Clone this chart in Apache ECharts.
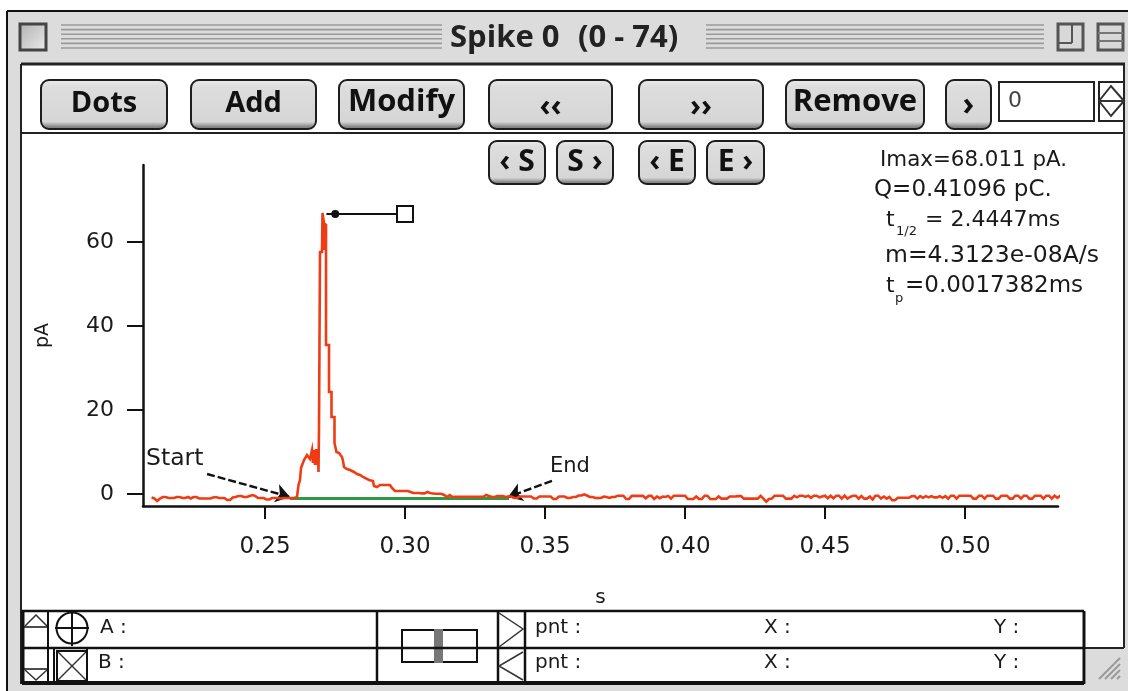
<!DOCTYPE html>
<html><head><meta charset="utf-8">
<style>html,body{margin:0;padding:0;background:#fff}#c{width:1128px;height:691px;filter:blur(0.4px)}</style>
<script src="https://cdn.jsdelivr.net/npm/echarts@6/dist/echarts.min.js"></script>
</head><body><div id="c"></div>
<script>
// ---- data ----
const xTicks = [0.25, 0.30, 0.35, 0.40, 0.45, 0.50];
const yTicks = [0, 20, 40, 60];
const sampleStep = 0.001;
const preStart = 0.2095;
const preCurrent = [-0.83,-1.07,-1.67,-1.07,-0.71,-0.71,-0.95,-0.95,-0.95,-0.71,-0.71,-0.95,-0.95,-0.71,-1.07,-0.71,-0.71,-1.07,-1.07,-1.07,-1.07,-1.07,-0.83,-0.71,-0.95,-0.95,-0.95,-1.43,-1.43,-0.83,-0.71,-0.48,-0.48,-0.71,-0.71,-0.48,-0.24,-0.48,-0.95,-0.95,-0.95,-1.31,-1.31,-0.95,-0.95,-0.95,-1.07,-0.95,-0.95,-0.95,-0.95,-0.95];
const spikeTime = [.26143,.26196,.2625,.26286,.26357,.26393,.26464,.265,.26571,.26607,.26661,.26679,.26714,.2675,.26786,.26821,.26857,.26893,.26911,.26929,.26964,.26964,.27036,.27054,.27089,.27107,.27125,.27143,.27161,.27179,.27179,.27286,.27286,.27375,.27375,.27482,.27482,.27536,.27554,.27643,.2775,.27786,.27821,.27929,.28036,.28179,.28286,.28393,.285,.28571,.28714,.28857,.28893,.29,.29107,.29464,.29536,.29643,.29929];
const spikeCurrent = [-0.71,2.14,3.33,6.19,6.19,8.1,8.1,9.29,9.29,8.33,8.33,10.48,7.38,10.48,6.9,10.71,6.9,10.71,5.24,15.95,15.95,57.62,57.62,66.9,66.9,64.52,58.1,64.52,58.1,64.29,35.48,35.48,24.29,24.29,18.33,18.33,12.14,12.14,10.0,9.76,8.81,7.86,6.43,5.95,5.71,5.24,4.76,4.52,4.05,3.81,3.33,3.1,1.9,1.67,2.14,2.14,1.43,0.71,0.71];
const postStart = 0.300;
const postCurrent = [
 .95,.71,.48,.24,.24,.24,.14,.14,.48,.24,.14,.05,.05,.05,-.24,-.71,
 -.24,-.71,-.67,-.67,-.67,-.67,-.67,-.67,-.67,-.67,-.67,-.67,-.67,-.24,
 -.48,-.71,-.71,-.48,-.48,-.48,-.71,
 -.6,-.6,-.95,-.95,-.6,-.6,-.6,-.6,-.6,-1.07,-1.07,-.6,-.6,-.6,-.6,-.6,-1.19,-1.19,-.6,-.6,-.6,-.95,-.95,-.71,-.71,-.36,-.36,-.12,-.36,-.71,-.71,-.95,-.95,-.95,-.6,-.71,-.95,-.71,-.71,
 -.4,-.4,-.4,-1.19,-1.19,-.45,-.45,-.45,-.45,-.45,-1.0,-.45,-.45,-1.19,-.6,-1.0,-.6,-.7,-.45,-1.1,-.4,-.4,-.4,-.4,-.4,-1.19,-1.19,-1.19,-.6,-1.19,-1.19,-.4,-.4,-1.19,-1.19,-1.19,-.6,-1.1,-1.1,-1.1,-.6,-.6,-.6,-.5,-.5,-1.1,-1.1,-1.1,-1.1,-1.1,-1.1,-.45,-1.1,-1.8,-1.19,-1.1,-.4,-.4,-.4,-.4,-1.1,-1.1,-1.1,-.45,-.8,-.4,-.4,-.7,-.4,-.9,-.4,-.4,-.8,
 -.6,-.4,-1,-.4,-1,-.4,-.4,-1.1,-.4,-1.1,-.7,-.4,-.4,-1.1,-.5,-1.1,-1.1,-.6,-1.3,-.4,-.4,-1.1,-.6,-1.1,-.7,-1.5,-1.5,-.9,-.9,-.9,-.9,-.9,-.5,-.5,-1.1,-.5,-.9,-.5,-.8,-.5,-.8,-.8,-.5,-.9,-.5,-1.1,-.4,-.4,-1.1,-.4,-.4,-.4,-.4,-.4,-1.1,-1.1,-.4,-.4,-1.1,-.4,-.4,-.4,-1.1,-1.1,-.4,-.4,-.4,-1.1,-1.1,-.4,-.4,-1.1,-.4,-.4,-1.1,-1.1,-.4,-.4,-.4,-1.1,-.4,-.4,-1.1,-.4,-.9,-.4,-.4];
const baselineTime = [0.25893, 0.33714];
const baselineCurrent = [-1.07, -1.07];
const peakMarkerTime = [0.30, 0.2723];
const peakMarkerCurrent = [66.67, 66.67];
const startArrow = [[0.2293, 4.76], [0.25893, -0.71]];
const endArrow = [[0.3525, 3.1], [0.33679, -0.71]];
const buttonLabels = ['Dots','Add','Modify','‹‹','››','Remove','›','‹ S','S ›','‹ E','E ›'];
const statLines = ['Imax=68.011 pA.','Q=0.41096 pC.','= 2.4447ms','m=4.3123e-08A/s','=0.0017382ms'];

const trace = [
  ...preCurrent.map((v,i)=>[preStart+i*sampleStep,v]),
  ...spikeCurrent.map((v,i)=>[spikeTime[i],v]),
  ...postCurrent.map((v,i)=>[postStart+i*sampleStep,v])
];

// ---- window furniture ----
const UI = '"DejaVu Sans"';
const BOLD = '"Open Sans"';
const g = [];
const rect=(x,y,w,h,fill,stroke,lw,r,z)=>g.push({type:'rect',z:z||1,silent:true,shape:{x,y,width:w,height:h,r:r||0},style:{fill:fill||'none',stroke:stroke||'none',lineWidth:lw||1}});
const line=(x1,y1,x2,y2,c,lw)=>g.push({type:'line',z:3,silent:true,shape:{x1,y1,x2,y2},style:{stroke:c||'#111',lineWidth:lw||2}});
const text=(x,y,t,size,o={})=>g.push({type:'text',z:5,silent:true,x,y,style:{text:t,fill:o.fill||'#1a1a1a',font:(o.bold?'bold ':'')+size+'px '+(o.family||UI),textAlign:o.align||'left',textVerticalAlign:'middle'},rotation:o.rot||0});
const poly=(pts,c,lw)=>g.push({type:'polyline',z:3,silent:true,shape:{points:pts},style:{stroke:c||'#111',lineWidth:lw||2,fill:'none'}});

// grey frame
rect(8,12,1120,51,'#dcdcdc');
rect(8,63,13,628,'#dcdcdc');
rect(21,684,1107,7,'#dcdcdc');
rect(1086,649,42,42,'#dcdcdc');
rect(1125,63,3,590,'#dcdcdc');
line(7,11,1128,11,'#111',2);
line(7,11,7,691,'#111',2);
line(21,64,1125,64,'#222',3);
line(21,64,21,684,'#222',2);
line(1124,64,1124,648,'#222',2);
line(1084,648,1124,648,'#222',2);
line(21,133,1124,133,'#222',2);

// title bar
function stripes(x1,x2){ for(let k=0;k<6;k++){ const y=25+k*4.6; line(x1,y,x2,y,'#9a9a9a',1.6);} }
stripes(61,442); stripes(706,1044);
text(450,38,'Spike 0',31,{bold:true,family:BOLD,fill:'#222'});
text(578,38,'(0 - 74)',31,{bold:true,family:BOLD,fill:'#222'});
function boxBtn(x,y,w,h){ g.push({type:'rect',z:2,silent:true,shape:{x,y,width:w,height:h},style:{fill:{type:'linear',x:0,y:0,x2:1,y2:1,colorStops:[{offset:0,color:'#b0b0b0'},{offset:.6,color:'#d4d4d4'},{offset:1,color:'#efefef'}]},stroke:'#444',lineWidth:3}}); }
boxBtn(20,24,26,26);
rect(1058,24,25,26,'#d8d8d8','#555',3);
line(1058,43,1072,43,'#555',2); line(1072,24,1072,43,'#555',2);
rect(1098,24,25,26,'#d8d8d8','#555',3);
line(1098,33,1123,33,'#777',2); line(1098,41,1123,41,'#777',2);

// buttons
function button(x,y,w,h,label,size,dy){
  g.push({type:'rect',z:2,silent:true,shape:{x,y,width:w,height:h,r:8},style:{fill:{type:'linear',x:0,y:0,x2:0,y2:1,colorStops:[{offset:0,color:'#ececec'},{offset:.15,color:'#dddddd'},{offset:.84,color:'#d6d6d6'},{offset:.93,color:'#8d8d8d'},{offset:1,color:'#6f6f6f'}]},stroke:'#1e1e1e',lineWidth:2}});
  text(x+w/2,y+h/2+(dy||0),label,size,{bold:true,family:BOLD,align:'center',fill:'#111'});
}
const bt=buttonLabels;
button(41,80,126,49,bt[0],29,-1);
button(191,80,125,49,bt[1],29,-1);
button(339,80,125,49,bt[2],31,-2);
button(489,80,123,49,bt[3],30,3);
button(639,80,124,49,bt[4],30,3);
button(786,80,138,49,bt[5],31,-2);
button(946,80,45,49,bt[6],32,1);
button(489,141,56,43,bt[7],30,0);
button(557,141,56,43,bt[8],30,0);
button(639,141,56,43,bt[9],30,0);
button(707,141,57,43,bt[10],30,0);

// value box & spinner
rect(999,82,95,39,'#fff','#222',2);
text(1008,101,'0',22,{fill:'#444'});
rect(1099,82,25,39,'#fff','#222',2);
poly([[1099,101],[1111,86],[1124,101],[1111,116],[1099,101]],'#333',2);
line(1099,101,1124,101,'#333',2);

// read-outs
text(880,160,statLines[0],21.4);
text(874,190,statLines[1],23);
text(886,220,'t',22);
text(896,232,'1/2',13);
text(925,220,statLines[2],22);
text(885,256,statLines[3],23.5);
text(886,286,'t',22);
text(895,299,'p',13);
text(905,286,statLines[4],23);

// annotations text
text(146,459,'Start',23.5);
text(550,467,'End',21);

// cursor panel
rect(22,611,1062,71,'#fff');
line(22,611,1084,611,'#111',2.5);
line(22,648,1084,648,'#111',2.5);
line(22,683,1084,683,'#111',4);
line(1084,611,1084,684,'#111',3);
line(23,611,23,684,'#111',3);
line(48,611,48,684,'#111',2);
line(377,611,377,682,'#111',2.5);
line(498,611,498,682,'#111',2.5);
line(525,611,525,682,'#111',2.5);
line(23,627,48,627,'#111',1.5);
line(23,669,48,669,'#111',1.5);
poly([[25,626],[36,615],[47,626]],'#333',1.5);
poly([[25,670],[36,680],[47,670]],'#333',1.5);
g.push({type:'circle',z:3,silent:true,shape:{cx:72,cy:628,r:15.5},style:{fill:'none',stroke:'#111',lineWidth:2}});
line(72,611,72,646,'#111',2); line(55,628,89,628,'#111',2);
rect(57,651,30,30,'#fff','#111',2);
line(58,652,86,680,'#333',1.5); line(58,680,86,652,'#333',1.5);
line(54,648,54,682,'#111',2); line(87,648,87,682,'#111',2);
text(100,628,'A :',20); text(98,663,'B :',20);
rect(402,630,75,32,'#fff','#111',2);
rect(434,629,9,34,'#777');
poly([[499,613],[523,629],[499,647]],'#333',1.5);
poly([[523,652],[499,666],[523,680]],'#333',1.5);
['pnt :','X :','Y :'].forEach((s,i)=>{ const x=[535,764,994][i]; text(x,628,s,20); text(x,663,s,20); });

// resize grip
for(let k=0;k<4;k++){ const d=k*6; line(1099+d,679,1120,658+d,'#999',2); }

// ---- chart ----
const xMin=.25-122/2800, xMax=.25+793/2800;
const yMin=-12/4.2, yMax=329/4.2;
const tickStyle={show:true,inside:false,length:13,lineStyle:{color:'#111',width:2}};
const axisText={color:'#1a1a1a',fontFamily:UI,fontSize:22};
const option={
  animation:false,
  backgroundColor:'#fff',
  grid:{left:143,top:165,width:915,height:341,containLabel:false},
  xAxis:{type:'value',min:xMin,max:xMax,
    name:'s',nameLocation:'middle',nameGap:82,nameTextStyle:{color:'#1a1a1a',fontFamily:UI,fontSize:20},
    axisLine:{show:true,onZero:false,lineStyle:{color:'#111',width:2.5}},
    axisTick:{...tickStyle,customValues:xTicks},
    axisLabel:{...axisText,fontSize:23,margin:30,customValues:xTicks,formatter:v=>v.toFixed(2)},
    splitLine:{show:false}},
  yAxis:{type:'value',min:yMin,max:yMax,
    name:'pA',nameLocation:'middle',nameGap:90,nameRotate:90,nameTextStyle:{color:'#1a1a1a',fontFamily:UI,fontSize:19},
    axisLine:{show:true,onZero:false,lineStyle:{color:'#111',width:2.5}},
    axisTick:{...tickStyle,length:16,customValues:yTicks},
    axisLabel:{...axisText,margin:29,customValues:yTicks},
    splitLine:{show:false}},
  graphic:{elements:g},
  series:[
    {type:'line',name:'baseline',data:baselineTime.map((t,i)=>[t,baselineCurrent[i]]),showSymbol:false,clip:false,z:4,
      lineStyle:{color:'#2f9a3f',width:3}},
    {type:'line',name:'trace',data:trace,showSymbol:false,clip:false,z:5,
      lineStyle:{color:'#f03c14',width:2.6,join:'miter'}},
    {type:'line',name:'peak',data:peakMarkerTime.map((t,i)=>[t,peakMarkerCurrent[i]]),clip:false,z:6,
      showSymbol:true,showAllSymbol:true,symbol:'rect',symbolSize:(v,p)=>p.dataIndex===0?16:0.1,
      itemStyle:{color:'#fff',borderColor:'#111',borderWidth:2},
      lineStyle:{color:'#111',width:2.2},
      markPoint:{silent:true,symbol:'circle',symbolSize:8,itemStyle:{color:'#111'},label:{show:false},data:[{coord:[0.2751,66.67]}]}},
    {type:'line',name:'annotations',data:[],z:7,
      markLine:{silent:true,animation:false,symbol:['none','arrow'],symbolSize:[14,14],label:{show:false},
        lineStyle:{color:'#111',width:2.4,type:[8,3],opacity:1},
        data:[[{coord:startArrow[0]},{coord:startArrow[1]}],[{coord:endArrow[0]},{coord:endArrow[1]}]]}}
  ]
};
echarts.init(document.getElementById('c'),null,{renderer:'canvas'}).setOption(option);
</script></body></html>
